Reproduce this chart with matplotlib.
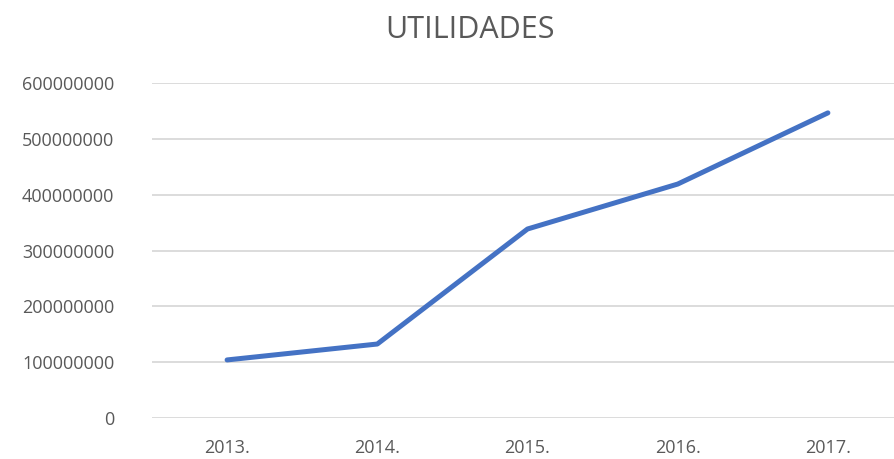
import matplotlib.pyplot as plt

years = ['2013.', '2014.', '2015.', '2016.', '2017.']
utilidades = [104000000, 132500000, 338500000, 419000000, 546500000]
yticks = [0, 100000000, 200000000, 300000000, 400000000, 500000000, 600000000]

plt.rcParams['font.family'] = ['Open Sans', 'DejaVu Sans']

fig = plt.figure(figsize=(8.94, 4.59), dpi=100)
ax = fig.add_axes([152/894, 41/459, 751/894, 335/459])

x = list(range(len(years)))
ax.plot(x, utilidades, color='#4472C4', linewidth=3.6, solid_capstyle='round', zorder=3)

ax.set_xlim(-0.5, 4.5)
ax.set_ylim(0, 600000000)
ax.set_yticks(yticks)
ax.set_yticklabels([str(v) for v in yticks])
ax.set_xticks(x)
ax.set_xticklabels(years)
ax.grid(axis='y', color='#D9D9D9', linewidth=1.3)
ax.set_axisbelow(True)
for s in ax.spines.values():
    s.set_visible(False)
ax.tick_params(length=0, labelsize=13, colors='#595959')
ax.tick_params(axis='x', pad=15)
ax.tick_params(axis='y', pad=27)

fig.text(470/894, 1 - 30/459, 'UTILIDADES', ha='center', va='center', fontsize=22, color='#595959')

fig.savefig('out.png', dpi=100)
